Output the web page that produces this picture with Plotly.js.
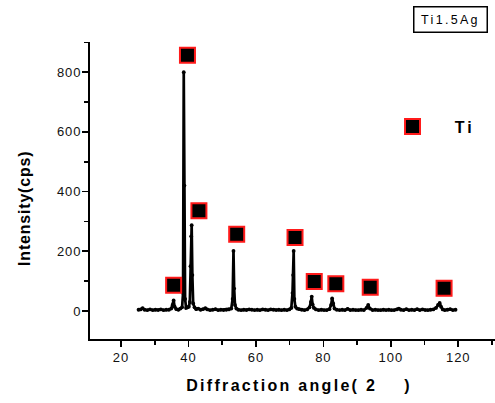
<!DOCTYPE html>
<html>
<head>
<meta charset="utf-8">
<script src="https://cdn.plot.ly/plotly-3.0.1.min.js"></script>
<style>
  html, body { margin: 0; padding: 0; background: #fff; }
  #chart { width: 495px; height: 403px; }
  .xtick text, .ytick text { letter-spacing: 1px; }
  .annotation[data-index="0"] .annotation-text { letter-spacing: 2.3px; }
  .annotation[data-index="1"] .annotation-text { letter-spacing: 0.8px; }
  .annotation[data-index="2"] .annotation-text { letter-spacing: 2.3px; }
  .legendtext { letter-spacing: 3px; }
</style>
</head>
<body>
<div id="chart"></div>
<script>
// XRD pattern (2-theta in degrees, intensity in cps)
var angle = [25.2, 25.8, 26.4, 27.0, 27.8, 28.6, 29.4, 30.2, 31.0, 31.8, 32.6, 33.4, 34.2, 34.9, 35.3, 35.6, 35.9, 36.4, 37.0, 37.6, 38.1, 38.4, 38.6, 38.8, 39.0, 39.3, 39.7, 40.1, 40.4, 40.6, 40.8, 40.95, 41.15, 41.4, 41.8, 42.3, 42.9, 43.6, 44.3, 45.0, 45.6, 46.4, 47.2, 48.0, 48.8, 49.6, 50.4, 51.2, 52.0, 52.7, 53.1, 53.35, 53.55, 53.8, 54.2, 54.8, 55.6, 56.4, 57.2, 58.0, 58.8, 59.6, 60.4, 61.2, 62.0, 62.8, 63.6, 64.4, 65.2, 66.0, 66.8, 67.6, 68.4, 69.2, 69.9, 70.5, 70.85, 71.05, 71.2, 71.4, 71.7, 72.2, 72.8, 73.6, 74.4, 75.2, 75.9, 76.3, 76.55, 76.8, 77.2, 77.8, 78.6, 79.4, 80.2, 81.0, 81.8, 82.3, 82.6, 82.9, 83.3, 84.0, 84.8, 85.6, 86.4, 87.2, 88.0, 88.8, 89.6, 90.4, 91.2, 92.0, 92.8, 93.3, 93.8, 94.6, 95.4, 96.2, 97.0, 97.8, 98.6, 99.4, 100.2, 101.0, 101.8, 102.4, 103.0, 103.8, 104.6, 105.4, 106.2, 107.0, 107.8, 108.6, 109.4, 110.2, 111.0, 111.8, 112.6, 113.4, 114.0, 114.5, 114.9, 115.4, 116.0, 116.8, 117.6, 118.4, 119.2, 120.0];
var intensity = [4, 5, 9, 4, 3, 5, 3, 4, 3, 5, 3, 4, 4, 8, 20, 35, 14, 6, 4, 8, 12, 60, 800, 420, 40, 10, 12, 14, 30, 150, 250, 287, 120, 25, 12, 6, 8, 4, 6, 9, 5, 3, 4, 6, 3, 4, 3, 4, 5, 8, 40, 201, 75, 20, 8, 4, 3, 4, 3, 5, 4, 3, 4, 3, 5, 4, 3, 5, 4, 3, 4, 3, 4, 3, 5, 10, 60, 120, 201, 40, 14, 8, 6, 4, 3, 5, 12, 30, 48, 22, 10, 5, 3, 4, 3, 3, 6, 20, 42, 25, 8, 4, 3, 4, 3, 7, 3, 4, 3, 3, 4, 3, 10, 20, 8, 3, 4, 3, 3, 4, 3, 4, 3, 3, 5, 8, 4, 3, 6, 3, 4, 3, 6, 3, 5, 3, 3, 4, 5, 10, 20, 27, 14, 5, 3, 4, 6, 3, 4];

// Ti phase markers placed above the indexed peaks
var tiAngle = [35.6, 39.7, 43.1, 54.3, 71.6, 77.3, 83.7, 93.9, 115.8];
var tiLevel = [86, 857, 336, 257, 246, 99, 91, 79, 76];

var xTickVals = [20, 40, 60, 80, 100, 120];
var yTickVals = [0, 200, 400, 600, 800];
var sampleName = "Ti1.5Ag";
var phaseName = "Ti";
var xTitle = "Diffraction angle( 2\u00a0\u00a0\u00a0\u00a0)";
var yTitle = "Intensity(cps)";

var FONT = "Arial, 'Liberation Sans', sans-serif";

var traces = [
  {
    x: angle, y: intensity, type: "scatter", mode: "lines+markers",
    line: {color: "#000", width: 2.7},
    marker: {color: "#000", size: 3.8},
    showlegend: false, hoverinfo: "skip"
  },
  {
    x: tiAngle, y: tiLevel, type: "scatter", mode: "markers",
    name: "\u00a0\u00a0\u00a0" + phaseName,
    marker: {symbol: "square", size: 15, color: "#000", line: {color: "#ff1a1a", width: 2}},
    showlegend: true
  }
];

var layout = {
  width: 495, height: 403,
  margin: {l: 90, r: 0, t: 41.5, b: 63.5},
  paper_bgcolor: "#fff", plot_bgcolor: "#fff",
  font: {family: FONT, color: "#000"},
  xaxis: {
    range: [10.8, 130.9],
    tickvals: xTickVals, ticktext: xTickVals.map(String),
    ticks: "outside", ticklen: 6, tickwidth: 1.6, tickcolor: "#000",
    minor: {tickvals: [30, 50, 70, 90, 110, 130], ticks: "outside", ticklen: 4, tickwidth: 1.6, tickcolor: "#000"},
    showline: true, linecolor: "#000", linewidth: 1.8,
    showgrid: false, zeroline: false, mirror: false,
    tickfont: {size: 13, family: FONT, color: "#111"}
  },
  yaxis: {
    range: [-94, 901],
    tickvals: yTickVals, ticktext: yTickVals.map(String),
    ticks: "outside", ticklen: 6, tickwidth: 1.6, tickcolor: "#000",
    ticklabelstandoff: -2,
    minor: {tickvals: [100, 300, 500, 700, 900], ticks: "outside", ticklen: 4, tickwidth: 1.6, tickcolor: "#000"},
    showline: true, linecolor: "#000", linewidth: 1.8,
    showgrid: false, zeroline: false, mirror: false,
    tickfont: {size: 13, family: FONT, color: "#111"}
  },
  legend: {
    x: 0.747, y: 0.715, xanchor: "left", yanchor: "middle",
    bgcolor: "rgba(0,0,0,0)", borderwidth: 0,
    font: {size: 16, family: FONT, weight: "bold", color: "#000"}
  },
  annotations: [
    {
      xref: "paper", yref: "paper", x: 0.89, y: 1.0745,
      xanchor: "center", yanchor: "middle",
      text: sampleName, showarrow: false,
      font: {size: 12.5, family: FONT, color: "#000"},
      bordercolor: "#000", borderwidth: 1.5, width: 70, height: 22, bgcolor: "#fff"
    },
    {
      xref: "paper", yref: "paper", x: -0.163, y: 0.44,
      xanchor: "center", yanchor: "middle", textangle: -90,
      text: yTitle, showarrow: false,
      font: {size: 16, family: FONT, weight: "bold", color: "#000"}
    },
    {
      xref: "paper", yref: "paper", x: 0.515, y: -0.156,
      xanchor: "center", yanchor: "middle",
      text: xTitle, showarrow: false,
      font: {size: 16, family: FONT, weight: "bold", color: "#000"}
    }
  ]
};

Plotly.newPlot("chart", traces, layout, {displayModeBar: false, staticPlot: true});
</script>
</body>
</html>
